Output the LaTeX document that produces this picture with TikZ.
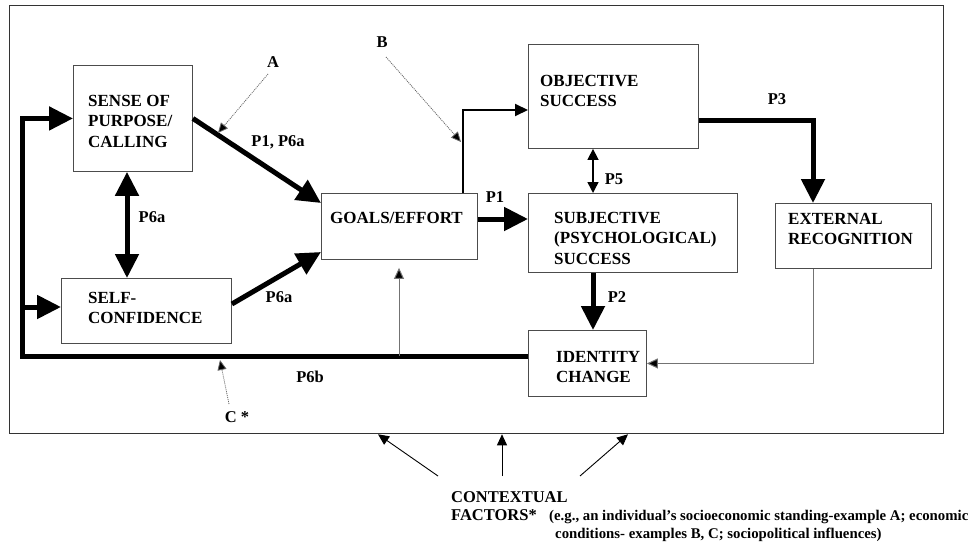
\documentclass[tikz,border=0pt]{standalone}
\usepackage{fontspec}
\setmainfont{Liberation Serif}
\usetikzlibrary{arrows.meta,calc}
\tikzset{
  frm/.style={draw=black!80, line width=1.3pt, inner sep=0pt, anchor=north west},
  box/.style={draw=black!70, line width=0.9pt, inner sep=0pt, anchor=north west},
  txt/.style={font=\fontsize{17}{20.5}\selectfont\bfseries, align=left, anchor=north west, inner sep=0pt},
  lbl/.style={font=\fontsize{16.5}{18}\selectfont\bfseries, inner sep=0pt},
  bigarrow/.style={line width=5pt, line join=miter, -{Triangle[width=23pt,length=24pt]}},
  bigdouble/.style={line width=5pt, {Triangle[width=23pt,length=24pt]}-{Triangle[width=23pt,length=24pt]}},
  fbline/.style={line width=5pt, line join=miter},
  medarrow/.style={line width=2pt, line join=miter, -{Triangle[width=12pt,length=13pt]}},
  smalldouble/.style={line width=1.5pt, {Triangle[width=11pt,length=11pt]}-{Triangle[width=11pt,length=11pt]}},
  thinarrow/.style={draw=black!55, line width=1pt, -{Triangle[width=10pt,length=11pt,fill=black]}},
  ctxarrow/.style={line width=0.9pt, -{Triangle[width=10pt,length=11pt]}},
  dotarrow/.style={draw=black!60, line width=0.8pt, dash pattern=on 1pt off 1pt, -{Triangle[width=9pt,length=10pt,fill=black]}},
}
\begin{document}
\begin{tikzpicture}[x=1pt,y=-1pt]
\useasboundingbox (0,0) rectangle (972,546);
\fill[white] (0,0) rectangle (972,546);
% outer frame
\node[frm, minimum width=934pt, minimum height=428pt] (frame) at (9,5) {};
% boxes
\node[box, minimum width=119pt, minimum height=106pt] (sense) at (73,65) {};
\node[box, minimum width=170pt, minimum height=65pt] (self) at (61,278) {};
\node[box, minimum width=156pt, minimum height=66pt] (goals) at (321,193) {};
\node[box, minimum width=170pt, minimum height=104pt] (obj) at (528,44) {};
\node[box, minimum width=209pt, minimum height=79pt] (subj) at (528,193) {};
\node[box, minimum width=156pt, minimum height=65pt] (ext) at (775,203) {};
\node[box, minimum width=118pt, minimum height=66pt] (ident) at (528,330) {};
% box texts
\node[txt] (tsense) at (88,95) {SENSE OF\\PURPOSE/\\CALLING};
\node[txt] (tself) at (88,292) {SELF-\\CONFIDENCE};
\node[txt] (tgoals) at (330,212) {GOALS/EFFORT};
\node[txt] (tsubj) at (554,212) {SUBJECTIVE\\(PSYCHOLOGICAL)\\SUCCESS};
\node[txt] (tobj) at (540,75) {OBJECTIVE\\SUCCESS};
\node[txt] (text) at (788,213) {EXTERNAL\\RECOGNITION};
\node[txt] (tident) at (556,351) {IDENTITY\\CHANGE};
% labels
\node[lbl] (lp1a) at (278,142) {P1, P6a};
\node[lbl] (lp6v) at (152,217) {P6a};
\node[lbl] (lp6l) at (279,297) {P6a};
\node[lbl] (lp1) at (495,197) {P1};
\node[lbl] (lp5) at (614,179) {P5};
\node[lbl] (lp3) at (777,99) {P3};
\node[lbl] (lp2) at (617,297) {P2};
\node[lbl] (lp6b) at (310,377) {P6b};
\node[lbl] (la) at (273,62) {A};
\node[lbl] (lb) at (382,42) {B};
\node[lbl] (lc) at (237,417) {C *};
% feedback loop
\coordinate (fbU) at (399,356);
\coordinate (fbB) at (22,307);
\draw[fbline] (ident.west |- 0,356) -- (fbU) -| (fbB);
\draw[bigarrow] (fbB) |- (sense.west);
\draw[bigarrow] (fbB) -- (self.west |- 0,307);
% main arrows
\draw[bigarrow] (sense.east) -- (goals.west |- 0,203);
\draw[bigarrow] (self.east |- 0,304) -- (goals.west |- 0,252);
\draw[bigdouble] (sense.south -| 127,0) -- (self.north -| 127,0);
\draw[bigarrow] (goals.east |- 0,219) -- (subj.west |- 0,219);
\draw[medarrow] (goals.north -| 463,0) |- (obj.west |- 0,110);
\draw[smalldouble] (obj.south -| 593,0) -- (subj.north -| 593,0);
\draw[bigarrow] (obj.east |- 0,120) -| (ext.north -| 813,0);
\draw[bigarrow] (subj.south -| 593,0) -- (ident.north -| 593,0);
\draw[thinarrow] (ext.south -| 813,0) |- (ident.east);
\draw[thinarrow] (fbU) -- ($(goals.south -| 399,0)+(0,8)$);
% dotted influences
\coordinate (aS) at (268,74);
\coordinate (aT) at (218,133);
\draw[dotarrow] (aS) -- (aT);
\coordinate (bS) at (386,57);
\coordinate (bT) at (461,142);
\draw[dotarrow] (bS) -- (bT);
\coordinate (cS) at (229,404);
\coordinate (cT) at (220,360);
\draw[dotarrow] (cS) -- (cT);
% contextual factors
\node[font=\fontsize{16.5}{18}\selectfont\bfseries, align=left, anchor=north west, inner sep=0pt] (ctx) at (451,491) {CONTEXTUAL\\FACTORS*};
\node[font=\fontsize{14.8}{18}\selectfont\bfseries, align=left, anchor=north west, inner sep=0pt] (ex) at (549,510) {(e.g., an individual's socioeconomic standing-example A; economic\\\hspace*{6pt}conditions- examples B, C; sociopolitical influences)};
\coordinate (cL) at (438,476);
\coordinate (cM) at (502,476);
\coordinate (cR) at (580,476);
\draw[ctxarrow] (cL) -- (frame.south -| 378,0);
\draw[ctxarrow] (cM) -- (frame.south -| 502,0);
\draw[ctxarrow] (cR) -- (frame.south -| 628,0);
\end{tikzpicture}
\end{document}
